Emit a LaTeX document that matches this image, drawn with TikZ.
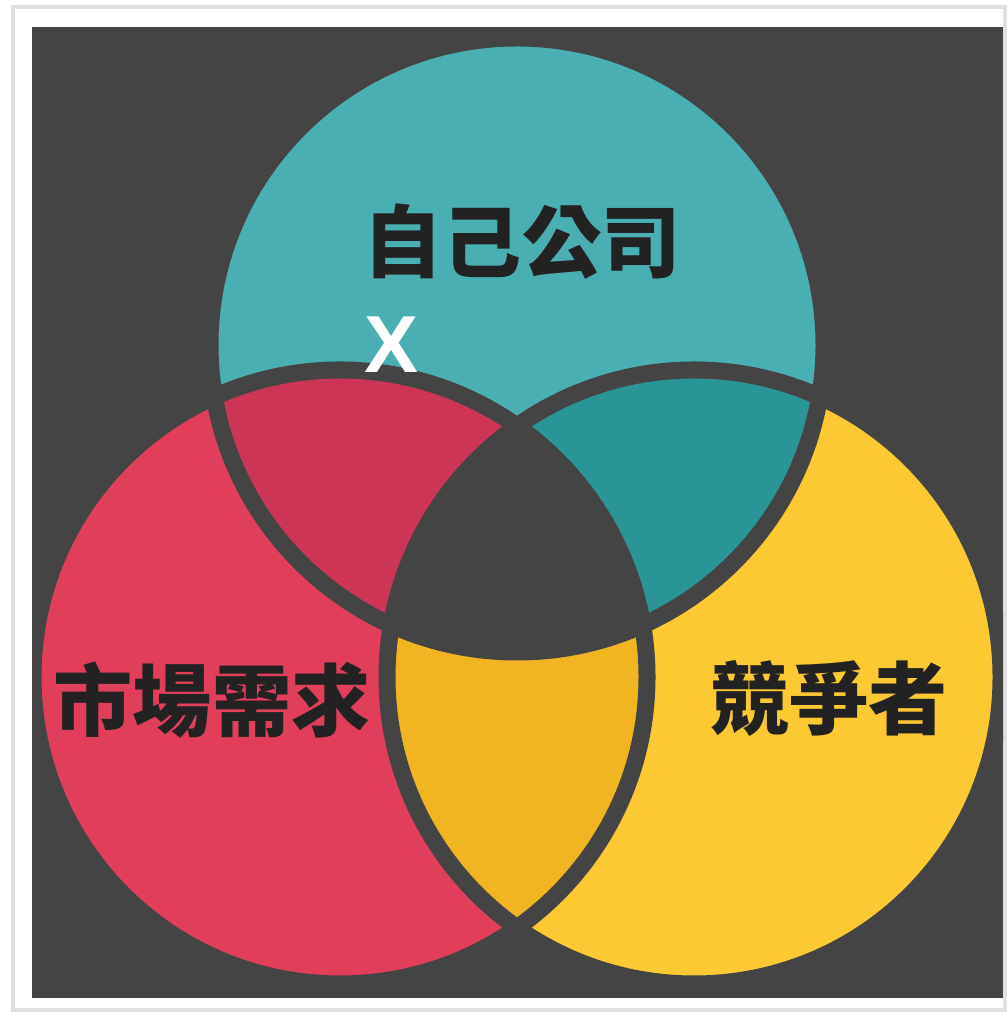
\documentclass[tikz,border=0pt]{standalone}
\usepackage{fontspec}
\setmainfont{Liberation Sans}
\newfontfamily\cjk{Noto Sans CJK TC}
\usetikzlibrary{positioning}

\definecolor{bgdark}{HTML}{444444}
\definecolor{tealc}{HTML}{4AAFB1}
\definecolor{redc}{HTML}{E13E5C}
\definecolor{yellowc}{HTML}{FDC933}
\definecolor{tealred}{HTML}{CD3557}
\definecolor{tealyel}{HTML}{2A9595}
\definecolor{redyel}{HTML}{F1B522}
\definecolor{inkc}{HTML}{222222}

\begin{document}
\begin{tikzpicture}[x=0.01cm, y=0.01cm,
    setname/.style={font=\cjk\bfseries\fontsize{22.5}{26}\selectfont, text=inkc, inner sep=0pt},
    ring/.style={draw=bgdark, line width=0.17cm}]

    % Canvas and dark panel
    \useasboundingbox (0,0) rectangle (1007,1013);
    \fill[white] (0,0) rectangle (1007,1013);
    \draw[gray!25, line width=1.2pt] (13,3) rectangle (1005,1006);
    \fill[bgdark] (32,15) rectangle (1003,986);

    % Circle centres
    \coordinate (Top) at (517,668);
    \coordinate (Left) at (340,336);
    \coordinate (Right) at (694,336);

    \begin{scope}
    \clip (32,15) rectangle (1003,986);

    % Circles
    \fill[tealc] (Top) circle (307);
    \fill[redc] (Left) circle (307);
    \fill[yellowc] (Right) circle (307);

    % Overlaps
    \begin{scope}
        \clip (Top) circle (307);
        \fill[tealred] (Left) circle (307);
        \fill[tealyel] (Right) circle (307);
    \end{scope}
    \begin{scope}
        \clip (Left) circle (307);
        \fill[redyel] (Right) circle (307);
        \clip (Right) circle (307);
        \fill[bgdark] (Top) circle (307);
    \end{scope}

    % Rings
    \draw[ring] (Top) circle (307);
    \draw[ring] (Left) circle (307);
    \draw[ring] (Right) circle (307);
    \end{scope}

    % Labels
    \node[setname] (own) at (522,771) {自己公司};
    \node[setname] (market) at (212,313) {市場需求};
    \node[setname] (rival) at (829,315) {競爭者};
    \node[font=\bfseries\fontsize{23}{26}\selectfont, text=white, inner sep=0pt] (cross) at (391,668) {X};

\end{tikzpicture}
\end{document}
